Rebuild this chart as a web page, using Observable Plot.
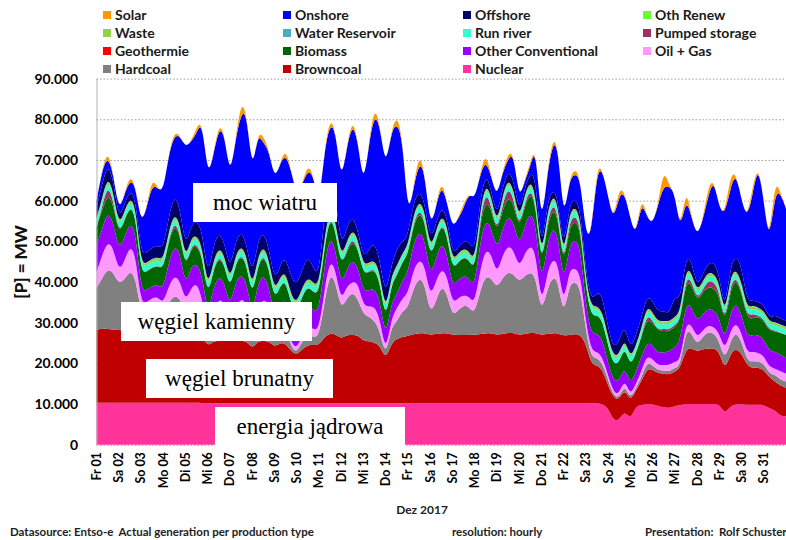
<!DOCTYPE html>
<html><head><meta charset="utf-8">
<script src="https://cdn.jsdelivr.net/npm/d3@7"></script>
<script src="https://cdn.jsdelivr.net/npm/@observablehq/plot@0.6"></script>
<style>
html,body{margin:0;padding:0;background:#fff;overflow:hidden;}
#wrap{position:relative;width:786px;height:540px;overflow:hidden;font-family:Lato,"Open Sans",sans-serif;}
#chart{position:absolute;left:0;top:0;}
.lg{position:absolute;font-weight:700;font-size:14px;color:#1a1a1a;white-space:nowrap;line-height:16px;height:16px;}
.lg i{display:inline-block;width:8px;height:8px;margin-right:4px;position:relative;top:-1px;}
.box{position:absolute;background:#fff;font-family:"Liberation Serif","DejaVu Serif",serif;font-size:23px;color:#000;display:flex;align-items:center;justify-content:center;white-space:nowrap;}
.ft{position:absolute;top:525px;font-weight:700;font-size:11.5px;color:#222;white-space:nowrap;}
</style></head>
<body>
<div id="wrap">
  <div id="chart"></div>
</div>
<script>
// ---- data (MW), samples every 6 hours from 01.12.2017 00:00 to 01.01.2018 00:00 ----
const dayLabels = ["Fr 01","Sa 02","So 03","Mo 04","Di 05","Mi 06","Do 07","Fr 08","Sa 09","So 10","Mo 11","Di 12","Mi 13","Do 14","Fr 15","Sa 16","So 17","Mo 18","Di 19","Mi 20","Do 21","Fr 22","Sa 23","So 24","Mo 25","Di 26","Mi 27","Do 28","Fr 29","Sa 30","So 31"];
const yTicks = [0,10000,20000,30000,40000,50000,60000,70000,80000,90000];

const nuclear = [
10300,10300,10300,10300, 10300,10300,10300,10300, 10300,10300,10300,10300, 10300,10300,10300,10300,
10300,10300,10300,10300, 10200,10200,10200,10200, 10200,10200,10200,10200, 10200,10200,10200,10200,
10200,10200,10200,10200, 10200,10200,10200,10200, 10200,10200,10200,10200, 10200,10200,10200,10200,
10200,10200,10200,10200, 10200,10200,10200,10200, 10200,10200,10200,10200, 10200,10200,10200,10200,
10200,10200,10200,10200, 10200,10200,10200,10200, 10200,10200,10200,10200, 10200,10200,10200,10200,
10200,10200,10200,10200, 10200,10200,10200,10200, 10200,10200,10200,10000, 9000,5800,6000,8500,
6000,9500,9800,10000, 10000,9500,9200,9000, 9500,9800,10000,10000, 10000,10000,10000,10000,
10000,7500,9500,10000, 10000,9800,9800,9800, 9800,9000,8500,7000, 7000];

const browncoal = [
18000,18200,18200,18000, 17900,17700,17700,17500, 17200,17200,17200,17200, 17200,17500,17500,17500,
17500,17500,17200,16700, 13800,15300,15300,15300, 15300,15300,15300,15300, 13300,15300,15300,15300,
13800,14800,14800,12800, 11800,13300,14300,14300, 14300,16300,17200,17000, 15800,16800,16800,16800,
15300,15300,14800,14300, 10500,14800,15800,16300, 16600,17000,17200,17200, 16800,17000,17200,17200,
16800,16800,16800,16800, 16800,17000,17200,17200, 16800,17000,17300,17300, 16800,17000,17300,17300,
16800,17000,17200,17200, 16600,16800,17000,16800, 14800,9400,9400,8500, 5500,5700,5000,5500,
4500,4000,5700,8800, 8500,8000,8300,8200, 8500,9000,13700,13700, 12900,13500,13700,13700,
13000,10500,13000,13700, 12500,9700,9000,9200, 8700,7500,7100,7500, 7000];

const hardcoal = [
10200,12500,14700,14200, 11300,12500,14800,13700, 4500,5000,6000,6500, 4500,7200,8900,8200,
4700,7200,8000,6000, 1500,4500,7500,6500, 1500,5500,7500,6500, 1500,5000,7500,6000,
1500,3000,4000,1000, 500,2000,2500,2000, 2000,8500,15100,12800, 7000,9000,10600,9000,
6500,6000,5500,3500, 600,4000,4200,6500, 6700,11300,13600,12600, 4900,7800,11800,10100,
4500,6000,7300,7000, 4900,10800,14200,13600, 11400,13800,15000,14500, 13000,14300,15000,14000,
4900,10800,13800,13400, 4200,12500,12800,12000, 3000,1700,1900,1500, 1500,500,500,1000,
500,500,1000,1700, 1000,800,800,800, 1000,400,4900,3800, 1600,3000,4100,3800,
2500,2500,3000,4100, 3000,1000,1700,1500, 1500,1000,1600,1500, 1500];

const oilGas = [
4000,5500,6800,6000, 3000,4500,6200,5500, 2500,2500,2500,2500, 2500,4000,4900,4500,
2500,3500,4500,3000, 1500,3000,3000,3000, 2000,3000,3000,3000, 2000,3000,3000,3000,
1500,2000,2000,1000, 1000,1500,2000,2000, 1500,3000,3200,3000, 2000,3000,2400,4000,
2000,2500,3500,3000, 700,2000,3300,3000, 3500,4500,4500,4500, 4100,5000,4100,4500,
3000,3000,2500,2500, 2400,5000,6600,6000, 3200,5500,6500,6000, 3300,5500,6500,6000,
1600,4000,4500,4200, 2500,3800,3300,3500, 2000,1600,1500,1500, 1000,800,800,1500,
800,1000,1500,1600, 1500,1200,1300,1600, 1500,1300,1600,2000, 1700,1500,1600,1500,
2000,2400,2500,2400, 2000,2000,2400,2000, 2000,1500,1600,2000, 2000];

const otherConv = [
6500,6500,7300,6500, 5000,6000,5500,6000, 3000,3000,3000,3000, 3500,6000,7400,7000,
3500,5500,4500,6000, 4500,5500,5600,5000, 4500,6000,6000,5000, 4500,6000,6000,4500,
4000,4500,5000,5000, 4500,5000,5500,4500, 4500,6000,6100,5000, 4000,4000,5500,4000,
3500,4000,4400,4500, 3500,4000,3300,4500, 5000,6500,7000,6500, 5000,5500,6500,5500,
4000,4500,4800,4500, 4100,7000,7300,6500, 5900,6500,7300,7000, 5200,7000,8100,7500,
4900,7000,7800,7000, 5000,5700,7300,6500, 4000,4100,4500,4500, 3000,2800,3300,3000,
2700,3000,3500,3200, 3500,3000,3100,3300, 3500,4800,4900,4500, 4000,4000,4100,4000,
4000,2100,4500,4900, 4500,4000,4100,4500, 4000,4000,4100,4000, 4000];

const biomass = [
4500,4500,4300,4500, 4000,4000,4000,4000, 4500,4500,4500,4500, 5000,5000,5000,4500,
4500,4500,4500,4500, 4300,4500,4400,4500, 4300,4500,4500,4500, 4300,4500,4500,4500,
4300,4500,4500,4500, 4500,4500,4500,4500, 4300,4500,4400,4500, 4500,4500,4500,4500,
4300,4500,4600,4500, 4300,4500,4500,4500, 4500,4500,4500,4500, 4500,4500,4400,4500,
4300,4300,4400,4500, 4100,4500,4500,4500, 4300,4500,4700,4500, 4300,4500,4900,4500,
4300,4500,4500,4500, 4300,4500,4400,4500, 4300,4500,4500,4500, 4300,4000,4400,5000,
4500,4500,5000,5700, 5500,5500,5300,4900, 5000,4900,5400,5500, 4900,5500,5300,5500,
5500,4000,5500,5700, 5500,4500,4000,4500, 4500,5000,5000,5500, 5500];

const geothermie = [
20,20,20,20, 20,20,20,20, 20,20,20,20, 20,20,20,20, 20,20,20,20, 20,20,20,20, 20,20,20,20, 20,20,20,20,
20,20,20,20, 20,20,20,20, 20,20,20,20, 20,20,20,20, 20,20,20,20, 20,20,20,20, 20,20,20,20, 20,20,20,20,
20,20,20,20, 20,20,20,20, 20,20,20,20, 20,20,20,20, 20,20,20,20, 20,20,20,20, 20,20,20,20, 20,20,20,20,
20,20,20,20, 20,20,20,20, 20,20,20,20, 20,20,20,20, 20,20,20,20, 20,20,20,20, 20,20,20,20, 20];

const pumped = [
0,900,2300,900, 100,200,100,100, 100,100,100,100, 100,400,900,400,
100,400,400,400, 100,100,400,100, 100,100,400,100, 100,100,400,100,
100,100,100,100, 100,100,100,100, 100,400,200,400, 100,400,900,100,
100,100,400,100, 100,100,400,100, 100,400,900,400, 200,100,200,400,
100,100,100,100, 100,900,2400,900, 100,1400,2400,1400, 100,900,900,400,
100,900,1400,900, 100,1400,1400,900, 100,100,100,100, 200,0,100,0,
0,0,0,1300, 500,200,500,400, 500,300,1000,1000, 500,500,1700,1500,
1000,200,1500,500, 500,500,1300,200, 500,200,300,0, 0];

const runRiver = [
1300,1300,1300,1300, 1300,1300,1300,1300, 1300,1300,1300,1300, 1300,1300,1300,1300,
1300,1300,1300,1300, 1300,1300,1300,1300, 1300,1300,1300,1300, 1300,1300,1300,1300,
1300,1300,1300,1300, 1300,1300,1300,1300, 1300,1300,1300,1300, 1300,1300,1300,1300,
1300,1300,1300,1300, 1300,1300,1300,1300, 1300,1300,1300,1300, 1300,1300,1300,1300,
1300,1300,1300,1300, 1300,1300,1300,1300, 1300,1300,1300,1300, 1300,1300,1300,1300,
1300,1300,1300,1300, 1300,1300,1300,1300, 1300,1300,1300,1300, 1200,1200,1200,1200,
1200,1200,1200,1200, 1200,1200,1200,1200, 1200,1200,1200,1200, 1200,1200,1200,1200,
1200,1200,1200,1200, 1200,1200,1200,1200, 1200,1200,1200,1200, 1200];

const waterReservoir = [
100,100,100,100, 100,100,100,100, 100,100,100,100, 100,100,100,100, 100,100,100,100, 100,100,100,100, 100,100,100,100, 100,100,100,100,
100,100,100,100, 100,100,100,100, 100,100,100,100, 100,100,100,100, 100,100,100,100, 100,100,100,100, 100,100,100,100, 100,100,100,100,
100,100,100,100, 100,100,100,100, 100,100,100,100, 100,100,100,100, 100,100,100,100, 100,100,100,100, 100,100,100,100, 100,100,100,100,
100,100,100,100, 100,100,100,100, 100,100,100,100, 100,100,100,100, 100,100,100,100, 100,100,100,100, 100,100,100,100, 100];

const waste = [
600,600,600,600, 600,600,600,600, 600,600,600,600, 600,600,600,600, 600,600,600,600, 600,600,600,600, 600,600,600,600, 600,600,600,600,
600,600,600,600, 600,600,600,600, 600,600,600,600, 600,600,600,600, 600,600,600,600, 600,600,600,600, 600,600,600,600, 600,600,600,600,
600,600,600,600, 600,600,600,600, 600,600,600,600, 600,600,600,600, 600,600,600,600, 600,600,600,600, 600,600,600,600, 600,600,600,600,
600,600,600,600, 600,600,600,600, 600,600,600,600, 600,600,600,600, 600,600,600,600, 600,600,600,600, 600,600,600,600, 600];

const othRenew = [
100,100,100,100, 100,100,100,100, 100,100,100,100, 100,100,100,100, 100,100,100,100, 100,100,100,100, 100,100,100,100, 100,100,100,100,
100,100,100,100, 100,100,100,100, 100,100,100,100, 100,100,100,100, 100,100,100,100, 100,100,100,100, 100,100,100,100, 100,100,100,100,
100,100,100,100, 100,100,100,100, 100,100,100,100, 100,100,100,100, 100,100,100,100, 100,100,100,100, 100,100,100,100, 100,100,100,100,
100,100,100,100, 100,100,100,100, 100,100,100,100, 100,100,100,100, 100,100,100,100, 100,100,100,100, 100,100,100,100, 100];

const offshore = [
2500,3500,3000,3000, 1300,1700,1800,1800, 2300,2500,2800,2800, 2800,3500,4500,4000,
2800,3000,3500,4000, 2500,3800,3700,3300, 2500,3300,3500,2800, 3000,3800,3500,2800,
2500,2800,3800,4300, 4300,4300,5300,3800, 2000,6000,7300,6200, 2300,3500,3300,2300,
1500,3300,4500,2800, 4000,2300,4400,2800, 2300,3000,2500,2000, 2200,1800,2000,2000,
1500,1500,1800,2300, 2300,2500,2500,1500, 1500,2000,2000,2500, 1500,1500,2000,4000,
1100,2500,1500,1500, 1500,2000,2000,2000, 2000,1400,3400,4100, 2100,1900,3300,3500,
2000,2500,2500,2500, 3000,2300,2500,1700, 5500,2600,3000,3000, 800,2000,2000,3000,
2000,800,2500,3200, 4000,1600,1200,1300, 1500,800,1700,1500, 1500];

const onshore = [
1600,3500,2000,1500, 2000,2500,2500,3000, 7500,10800,15500,14000, 14000,15500,14500,17500,
25000,20500,21500,27000, 24800,22000,25700,26700, 22800,25000,29000,32500, 25000,27000,21500,24100,
25000,25000,25000,26500, 22000,21000,21000,23000, 16500,15500,13200,16300, 16000,19500,22700,22000,
17500,26000,31500,33300, 31500,33000,30800,26000, 4500,3500,7000,7500, 3000,4000,5500,3500,
6500,7000,8000,12000, 13000,6500,3000,3500, 4900,4000,2500,6700, 3100,2000,1000,8200,
6200,7000,11000,13200, 7300,6300,6000,7500, 8500,16300,29900,30900, 32400,31300,36100,32000,
32500,24000,29000,19200, 18500,26500,30600,31600, 25000,16900,14500,10500, 12600,13000,16500,20500,
16000,24500,19000,20500, 16000,20400,26000,34000, 25500,18000,30100,31000, 27500];

const solar = [
0,200,1500,0, 0,100,1300,0, 0,100,1800,0, 0,100,1100,0, 0,100,1500,0, 0,100,1200,0, 0,100,3000,0, 0,100,1800,0,
0,100,1500,0, 0,100,1500,0, 0,100,1500,0, 0,100,1400,0, 0,100,2300,0, 0,100,2200,0, 0,100,2300,0, 0,100,1500,0,
0,100,1200,0, 0,100,2200,0, 0,100,1500,0, 0,100,1200,0, 0,100,1500,0, 0,100,1500,0, 0,100,1500,0, 0,0,2000,0,
0,0,1600,0, 0,0,4500,0, 0,0,2800,0, 0,0,2500,0, 0,0,3500,0, 0,0,2000,0, 0,0,3500,0, 0];

// ---- series (stacking order bottom -> top) ----
const seriesNames = ["Nuclear","Browncoal","Hardcoal","Oil + Gas","Other Conventional","Biomass","Geothermie","Pumped storage","Run river","Water Reservoir","Waste","Oth Renew","Offshore","Onshore","Solar"];
const seriesValues = [nuclear,browncoal,hardcoal,oilGas,otherConv,biomass,geothermie,pumped,runRiver,waterReservoir,waste,othRenew,offshore,onshore,solar];
const seriesColors = ["#ff3399","#c00000","#808080","#ff99ff","#9900ff","#006600","#ff0000","#993366","#33ffcc","#4bacc6","#92d050","#66ff33","#000066","#0000ff","#ff9900"];

const table = seriesNames.flatMap((name, k) => seriesValues[k].map((v, i) => ({t: i * 6, v, s: name})));
const dayTicks = dayLabels.map((_, i) => i * 24);
const fmt = d => d3.format(",")(d).replace(/,/g, ".");

const chart = Plot.plot({
  width: 790, height: 540,
  marginLeft: 97, marginRight: 0, marginTop: 79, marginBottom: 93,
  style: {fontFamily: "Lato, sans-serif", background: "transparent", color: "#000", overflow: "visible"},
  x: {domain: [0, 744]},
  y: {domain: [0, 90000]},
  color: {domain: seriesNames, range: seriesColors},
  marks: [
    Plot.gridY(yTicks, {stroke: "#9a9a9a", strokeOpacity: 1, strokeDasharray: "1.5,2"}),
    Plot.areaY(table, {x: "t", y: "v", z: "s", fill: "s", order: seriesNames, curve: "basis"}),
    Plot.ruleX([0], {stroke: "#b0b0b0"}),
    Plot.axisY(yTicks, {tickSize: 0, tickPadding: 19, tickFormat: fmt, fontSize: 14, fontWeight: "bold", label: null}),
    Plot.axisX(dayTicks, {tickSize: 0, tickPadding: 7, tickRotate: -90, tickFormat: d => dayLabels[d / 24], fontSize: 12.5, fontWeight: "bold", label: null})
  ]
});
document.getElementById("chart").appendChild(chart);

// ---- legend, annotations and texts ----
const wrap = document.getElementById("wrap");
const legendRows = [
  ["Solar","Onshore","Offshore","Oth Renew"],
  ["Waste","Water Reservoir","Run river","Pumped storage"],
  ["Geothermie","Biomass","Other Conventional","Oil + Gas"],
  ["Hardcoal","Browncoal","Nuclear"]
];
const colX = [103, 283, 463, 643];
legendRows.forEach((row, r) => row.forEach((name, c) => {
  const d = document.createElement("div");
  d.className = "lg";
  d.style.left = colX[c] + "px";
  d.style.top = (7 + r * 18) + "px";
  const sw = document.createElement("i");
  sw.style.background = seriesColors[seriesNames.indexOf(name)];
  d.appendChild(sw);
  d.appendChild(document.createTextNode(name));
  wrap.appendChild(d);
}));

const boxes = [
  {text: "moc wiatru", x: 193, y: 183, w: 144, h: 39},
  {text: "węgiel kamienny", x: 121, y: 302, w: 191, h: 39},
  {text: "węgiel brunatny", x: 146, y: 359, w: 187, h: 39},
  {text: "energia jądrowa", x: 215, y: 407, w: 190, h: 39}
];
boxes.forEach(b => {
  const d = document.createElement("div");
  d.className = "box";
  Object.assign(d.style, {left: b.x + "px", top: b.y + "px", width: b.w + "px", height: b.h + "px"});
  d.textContent = b.text;
  wrap.appendChild(d);
});

function addText(txt, css) {
  const d = document.createElement("div");
  d.textContent = txt;
  d.style.position = "absolute";
  d.style.whiteSpace = "nowrap";
  Object.assign(d.style, css);
  wrap.appendChild(d);
  return d;
}
addText("[P] = MW", {left: "20px", top: "262px", transform: "translate(-50%,-50%) rotate(-90deg)", fontWeight: "900", fontSize: "17px", color: "#111"});
addText("Dez 2017", {left: "422px", top: "502px", transform: "translateX(-50%)", fontWeight: "700", fontSize: "12px", color: "#222"});
[["Datasource: Entso-e  Actual generation per production type", 10], ["resolution: hourly", 452], ["Presentation:  Rolf Schuster", 645]].forEach(([t, x]) => {
  const d = addText(t, {left: x + "px"});
  d.className = "ft";
  d.style.whiteSpace = "pre";
});
</script>
</body></html>
